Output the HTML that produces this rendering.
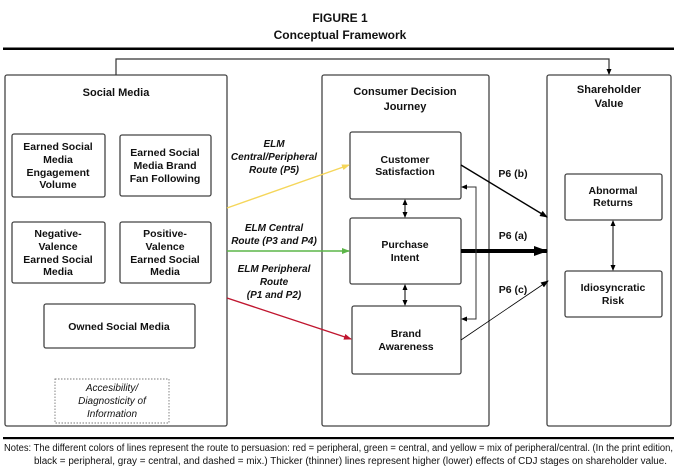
<!DOCTYPE html>
<html><head><meta charset="utf-8"><style>
body{margin:0;background:#fff;width:680px;height:475px;overflow:hidden}
svg{display:block}
text{font-family:"Liberation Sans",sans-serif;fill:#111}
.b{font-weight:bold;font-size:10.5px}
.i{font-weight:bold;font-style:italic;font-size:10px}
.n{font-size:10px}
</style></head><body>
<svg width="680" height="475" viewBox="0 0 680 475">
<defs>
<marker id="ak" markerWidth="8" markerHeight="8" refX="7" refY="4" orient="auto" markerUnits="userSpaceOnUse"><path d="M0,1 L8,4 L0,7z" fill="#000"/></marker>
<marker id="ak2" markerWidth="6" markerHeight="6" refX="5" refY="3" orient="auto-start-reverse" markerUnits="userSpaceOnUse"><path d="M0,0.5 L6,3 L0,5.5z" fill="#000"/></marker>
<marker id="ay" markerWidth="8" markerHeight="8" refX="7" refY="4" orient="auto" markerUnits="userSpaceOnUse"><path d="M0,1 L8,4 L0,7z" fill="#f5d65a"/></marker>
<marker id="ag" markerWidth="8" markerHeight="8" refX="7" refY="4" orient="auto" markerUnits="userSpaceOnUse"><path d="M0,1 L8,4 L0,7z" fill="#5cb548"/></marker>
<marker id="ar" markerWidth="8" markerHeight="8" refX="7" refY="4" orient="auto" markerUnits="userSpaceOnUse"><path d="M0,1 L8,4 L0,7z" fill="#c0162f"/></marker>
<marker id="abig" markerWidth="14" markerHeight="10" refX="13" refY="5" orient="auto" markerUnits="userSpaceOnUse"><path d="M0,0 L14,5 L0,10z" fill="#000"/></marker>
</defs>
<text x="340" y="22" text-anchor="middle" style="font-weight:bold;font-size:12px">FIGURE 1</text>
<text x="340" y="39" text-anchor="middle" style="font-weight:bold;font-size:12px">Conceptual Framework</text>
<rect x="3" y="47.5" width="671" height="2.5" fill="#000"/>

<g fill="none" stroke="#444" stroke-width="1.3">
<rect x="5" y="75" width="222" height="351" rx="2"/>
<rect x="322" y="75" width="167" height="351" rx="2"/>
<rect x="547" y="75" width="124" height="351" rx="2"/>
<rect x="12" y="134" width="93" height="63" rx="2"/>
<rect x="120" y="135" width="91" height="61" rx="2"/>
<rect x="12" y="222" width="93" height="61" rx="2"/>
<rect x="120" y="222" width="91" height="61" rx="2"/>
<rect x="44" y="304" width="151" height="44" rx="2"/>
<rect x="350" y="132" width="111" height="67" rx="2"/>
<rect x="350" y="218" width="111" height="66" rx="2"/>
<rect x="352" y="306" width="109" height="68" rx="2"/>
<rect x="565" y="174" width="97" height="46" rx="2"/>
<rect x="565" y="271" width="97" height="46" rx="2"/>
</g>
<rect x="55" y="379" width="114" height="44" fill="none" stroke="#777" stroke-width="0.9" stroke-dasharray="1.5,1.5"/>
<path d="M116,75 V59 H609 V74" fill="none" stroke="#333" stroke-width="1.2" marker-end="url(#ak2)"/>

<text x="116" y="96" text-anchor="middle" class="b" style="font-size:11px">Social Media</text>
<text x="405" y="95" text-anchor="middle" class="b" style="font-size:11px">Consumer Decision</text>
<text x="405" y="110" text-anchor="middle" class="b" style="font-size:11px">Journey</text>
<text x="609" y="93" text-anchor="middle" class="b" style="font-size:11px">Shareholder</text>
<text x="609" y="107" text-anchor="middle" class="b" style="font-size:11px">Value</text>

<g class="b" text-anchor="middle">
<text x="58" y="150">Earned Social</text><text x="58" y="163">Media</text><text x="58" y="176">Engagement</text><text x="58" y="188">Volume</text>
<text x="165" y="156">Earned Social</text><text x="165" y="169">Media Brand</text><text x="165" y="182">Fan Following</text>
<text x="58" y="237">Negative-</text><text x="58" y="250">Valence</text><text x="58" y="263">Earned Social</text><text x="58" y="275">Media</text>
<text x="165" y="237">Positive-</text><text x="165" y="250">Valence</text><text x="165" y="263">Earned Social</text><text x="165" y="275">Media</text>
<text x="119" y="330">Owned Social Media</text>
<text x="405" y="163">Customer</text><text x="405" y="175">Satisfaction</text>
<text x="405" y="248">Purchase</text><text x="405" y="261">Intent</text>
<text x="406" y="337">Brand</text><text x="406" y="350">Awareness</text>
<text x="613" y="194">Abnormal</text><text x="613" y="206">Returns</text>
<text x="613" y="291">Idiosyncratic</text><text x="613" y="304">Risk</text>
<text x="513" y="177">P6 (b)</text>
<text x="513" y="239">P6 (a)</text>
<text x="513" y="293">P6 (c)</text>
</g>
<g class="i" text-anchor="middle">
<text x="274" y="147">ELM</text><text x="274" y="160">Central/Peripheral</text><text x="274" y="173">Route (P5)</text>
<text x="274" y="231">ELM Central</text><text x="274" y="244">Route (P3 and P4)</text>
<text x="274" y="272">ELM Peripheral</text><text x="274" y="285">Route</text><text x="274" y="298">(P1 and P2)</text>
</g>
<g font-style="italic" font-size="10" text-anchor="middle">
<text x="112" y="391">Accesibility/</text><text x="112" y="404">Diagnosticity of</text><text x="112" y="417">Information</text>
</g>

<line x1="227" y1="208" x2="349" y2="165" stroke="#f5d65a" stroke-width="1.4" marker-end="url(#ay)"/>
<line x1="227" y1="251" x2="349" y2="251" stroke="#5cb548" stroke-width="1.4" marker-end="url(#ag)"/>
<line x1="227" y1="298" x2="351" y2="339" stroke="#c0162f" stroke-width="1.4" marker-end="url(#ar)"/>
<line x1="461" y1="165" x2="547" y2="217" stroke="#000" stroke-width="1.4" marker-end="url(#ak)"/>
<line x1="461" y1="251" x2="547" y2="251" stroke="#000" stroke-width="4" marker-end="url(#abig)"/>
<line x1="461" y1="340" x2="548" y2="281" stroke="#000" stroke-width="0.8" marker-end="url(#ak)"/>
<path d="M462,187 H476 V319 H462" fill="none" stroke="#333" stroke-width="1" marker-start="url(#ak2)" marker-end="url(#ak2)"/>
<line x1="405" y1="200" x2="405" y2="217" stroke="#000" stroke-width="1" marker-start="url(#ak2)" marker-end="url(#ak2)"/>
<line x1="405" y1="285" x2="405" y2="305" stroke="#000" stroke-width="1" marker-start="url(#ak2)" marker-end="url(#ak2)"/>
<line x1="613" y1="221" x2="613" y2="270" stroke="#000" stroke-width="1" marker-start="url(#ak2)" marker-end="url(#ak2)"/>

<rect x="3" y="437" width="671" height="2.2" fill="#000"/>
<text x="4" y="451" class="n" textLength="669" lengthAdjust="spacingAndGlyphs">Notes: The different colors of lines represent the route to persuasion: red = peripheral, green = central, and yellow = mix of peripheral/central. (In the print edition,</text>
<text x="34" y="464" class="n" textLength="633" lengthAdjust="spacingAndGlyphs">black = peripheral, gray = central, and dashed = mix.) Thicker (thinner) lines represent higher (lower) effects of CDJ stages on shareholder value.</text>
</svg>
</body></html>
